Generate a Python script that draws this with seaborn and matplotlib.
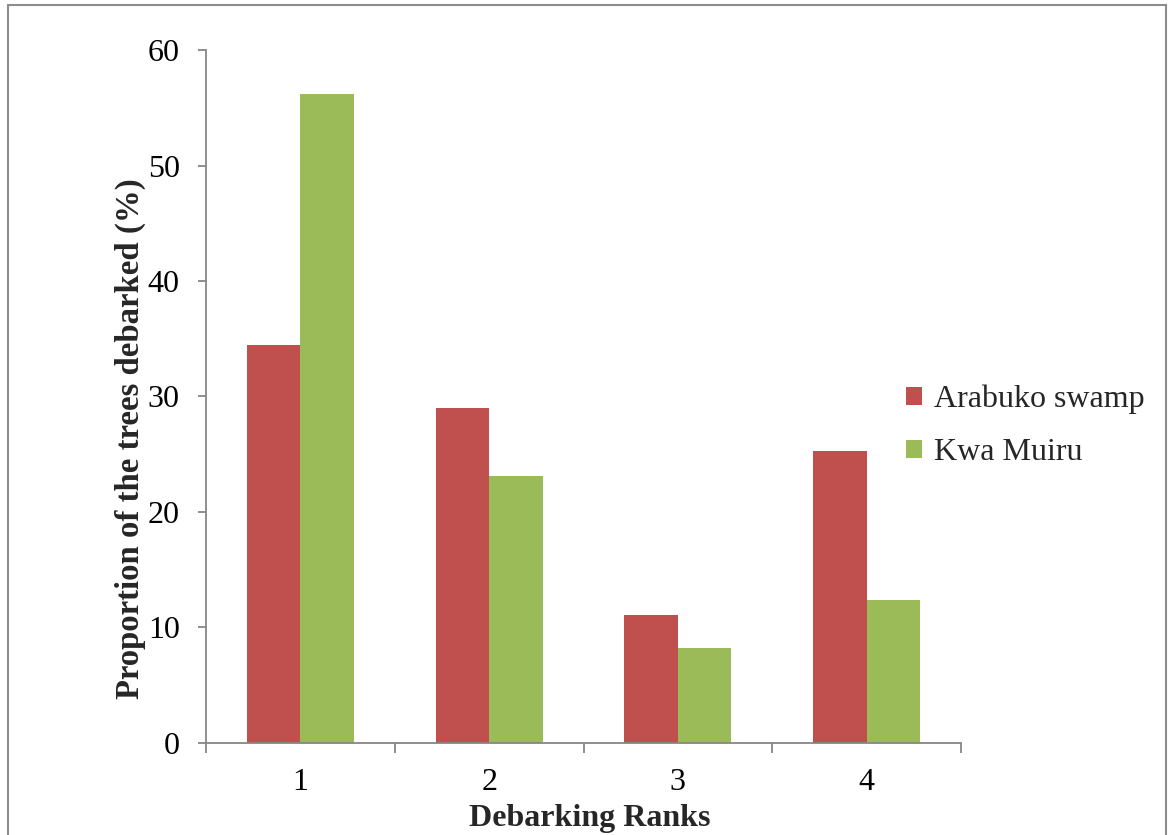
import matplotlib
matplotlib.use("Agg")
import matplotlib.pyplot as plt
from matplotlib.patches import Rectangle
from matplotlib.ticker import FixedLocator
import seaborn as sns
import pandas as pd

# Debarking survey results per site
ranks = ["1", "2", "3", "4"]
arabuko_swamp = [34.5, 29.0, 11.1, 25.3]
kwa_muiru = [56.2, 23.1, 8.2, 12.4]
series_names = ["Arabuko swamp", "Kwa Muiru"]
y_ticks = [0, 10, 20, 30, 40, 50, 60]

df = pd.DataFrame({
    "rank": ranks * 2,
    "value": arabuko_swamp + kwa_muiru,
    "site": [series_names[0]] * len(ranks) + [series_names[1]] * len(ranks),
})

sns.set_theme(style="white")
plt.rcParams["font.family"] = ["Liberation Serif", "DejaVu Serif"]

FS = 23

fig = plt.figure(figsize=(11.68, 8.35), dpi=100)
ax = fig.add_axes([0.1764, 0.1102, 0.8228 - 0.1764, 0.9401 - 0.1102])

palette = {series_names[0]: "#C0504D", series_names[1]: "#9BBB59"}
sns.barplot(data=df, x="rank", y="value", hue="site", order=ranks,
            hue_order=series_names, palette=palette, width=0.567,
            saturation=1, ax=ax, legend=True, linewidth=0)

spine_col = "#868686"
ax.set_xlim(-0.5, len(ranks) - 0.5)
ax.set_ylim(0, 60)
ax.set_yticks(y_ticks)
for side in ("top", "right"):
    ax.spines[side].set_visible(False)
for side in ("left", "bottom"):
    ax.spines[side].set_color(spine_col)
    ax.spines[side].set_linewidth(1.3)

ax.tick_params(axis="y", which="major", direction="out", length=6, width=1.3,
               color=spine_col, labelsize=FS, pad=13, left=True, labelcolor="black")
ax.tick_params(axis="x", which="major", length=0, labelsize=FS, pad=18,
               labelcolor="black")
ax.xaxis.set_minor_locator(FixedLocator([i - 0.5 for i in range(len(ranks) + 1)]))
ax.tick_params(axis="x", which="minor", direction="out", length=7, width=1.3,
               color=spine_col, bottom=True)

ax.set_xlabel("Debarking Ranks", fontsize=FS, fontweight="bold")
ax.xaxis.set_label_coords(0.508, -0.088)
ax.xaxis.label.set_va("top")
ax.set_ylabel("Proportion of the trees debarked (%)", fontsize=23.6,
              fontweight="bold")
ax.yaxis.set_label_coords(-0.080, 0.4387)

leg = ax.legend(loc="center left", bbox_to_anchor=(0.776, 0.4898),
                bbox_transform=fig.transFigure, frameon=False, fontsize=FS,
                handlelength=0.5, handleheight=0.5, handletextpad=0.35,
                labelspacing=0.75, borderpad=0, borderaxespad=0)

# Thin frame around the whole chart area
fig.patches.append(Rectangle((8 / 1168, -0.01), (1166 - 8) / 1168, 1 - 5 / 835 + 0.01,
                             transform=fig.transFigure, fill=False,
                             edgecolor="#8c8c8c", linewidth=1.5))

fig.savefig("out.png", dpi=100, facecolor="white")
